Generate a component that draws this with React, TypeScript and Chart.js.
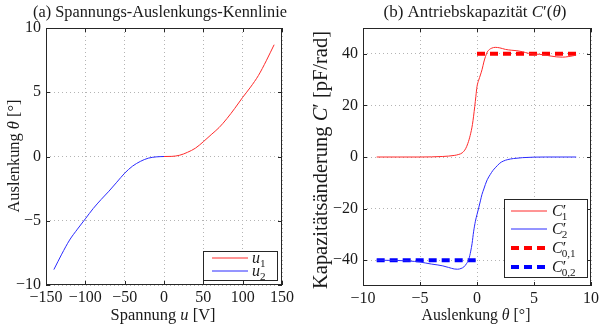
import React, { useEffect, useRef } from "react";
import { Chart, registerables } from "chart.js";

Chart.register(...registerables);

// (a) Spannungs-Auslenkungs-Kennlinie: Auslenkung θ [°] über Spannung u [V]
const voltageU1 = [0, 10, 20, 30, 40, 50, 60, 70, 80, 90, 100, 110, 120, 130, 140];
const thetaU1 = [0, 0.01, 0.1, 0.33, 0.65, 1.15, 1.7, 2.25, 2.95, 3.75, 4.6, 5.4, 6.3, 7.45, 8.7];
const voltageU2 = [-140, -130, -120, -110, -100, -90, -80, -70, -60, -50, -40, -30, -20, -10, 0];
const thetaU2 = [-8.8, -7.6, -6.5, -5.65, -4.85, -4.05, -3.35, -2.7, -2.0, -1.3, -0.75, -0.38, -0.13, -0.03, 0];

const voltageTicks = [-150, -100, -50, 0, 50, 100, 150];
const thetaTicksA = [-10, -5, 0, 5, 10];

// (b) Antriebskapazität C'(θ) in pF/rad
const thetaC1 = [-8.8, -7, -5, -4, -3, -2.5, -2, -1.6, -1.3, -1.0, -0.8, -0.6, -0.4, -0.2, -0.1, 0, 0.15, 0.3, 0.45, 0.6, 0.75, 0.9, 1.1, 1.3, 1.6, 2.0, 2.5, 3.0, 3.5, 4.0, 4.5, 5.0, 5.5, 6.0, 6.5, 7.0, 7.5, 8.0, 8.4, 8.7];
const capC1 = [0, 0, 0, 0.05, 0.2, 0.35, 0.6, 1.0, 1.6, 3.2, 5.3, 8.3, 12.6, 19.5, 23.5, 27.3, 29.8, 31.8, 34.0, 36.8, 39.0, 40.7, 41.7, 42.2, 42.5, 42.3, 41.7, 41.4, 41.2, 40.8, 40.2, 39.9, 39.8, 39.5, 39.1, 38.8, 38.7, 38.9, 39.2, 39.5];
const thetaC2 = [-8.8, -7, -6, -5, -4.5, -4, -3.5, -3, -2.5, -2, -1.7, -1.4, -1.15, -0.9, -0.72, -0.55, -0.43, -0.3, -0.14, 0, 0.15, 0.3, 0.43, 0.6, 0.73, 0.9, 1.16, 1.4, 1.6, 2.0, 2.3, 2.7, 3.2, 4.0, 5.0, 6.0, 8.7];
const capC2 = [-40.0, -40.1, -40.3, -40.7, -41.1, -41.5, -41.8, -42.2, -42.8, -43.4, -43.5, -43.2, -42.6, -41.2, -39.7, -36.5, -33.5, -29, -24.9, -22.3, -19.7, -17, -14.6, -12.4, -10.7, -8.8, -6.8, -5.2, -4.2, -2.4, -1.6, -1.0, -0.6, -0.25, -0.05, 0, 0];
const thetaC01 = [0, 8.7];
const capC01 = [40, 40];
const thetaC02 = [-8.8, 0];
const capC02 = [-40, -40];

const thetaTicksB = [-10, -5, 0, 5, 10];
const capTicks = [-40, -20, 0, 20, 40];

const FONT = '"Liberation Serif", "Times New Roman", serif';
const INK = "#1a1a1a";
const RED = "#ff2a2a";
const BLUE = "#2a2aff";

type Seg = { t?: string; it?: boolean; sub?: string; sup?: string };

const titleA: Seg[] = [{ t: "(a) Spannungs-Auslenkungs-Kennlinie" }];
const titleB: Seg[] = [{ t: "(b) Antriebskapazität " }, { t: "C", it: true }, { t: "′(" }, { t: "θ", it: true }, { t: ")" }];
const xLabelA: Seg[] = [{ t: "Spannung " }, { t: "u", it: true }, { t: " [V]" }];
const yLabelA: Seg[] = [{ t: "Auslenkung " }, { t: "θ", it: true }, { t: " [°]" }];
const xLabelB: Seg[] = [{ t: "Auslenkung " }, { t: "θ", it: true }, { t: " [°]" }];
const yLabelB: Seg[] = [{ t: "Kapazitätsänderung " }, { t: "C", it: true }, { t: "′ [pF/rad]" }];

const legendU1: Seg[] = [{ t: "u", it: true, sub: "1" }];
const legendU2: Seg[] = [{ t: "u", it: true, sub: "2" }];
const legendC1: Seg[] = [{ t: "C", it: true, sup: "′", sub: "1" }];
const legendC2: Seg[] = [{ t: "C", it: true, sup: "′", sub: "2" }];
const legendC01: Seg[] = [{ t: "C", it: true, sup: "′", sub: "0,1" }];
const legendC02: Seg[] = [{ t: "C", it: true, sup: "′", sub: "0,2" }];

const fontOf = (size: number, it?: boolean) => `${it ? "italic " : ""}${size}px ${FONT}`;

function richWidth(ctx: CanvasRenderingContext2D, segs: Seg[], size: number) {
  let w = 0;
  for (const s of segs) {
    if (s.t) {
      ctx.font = fontOf(size, s.it);
      w += ctx.measureText(s.t).width;
    }
    if (s.sub || s.sup) {
      let a = 0;
      let b = 0;
      if (s.sup) {
        ctx.font = fontOf(size);
        a = ctx.measureText(s.sup).width;
      }
      if (s.sub) {
        ctx.font = fontOf(size * 0.7);
        b = ctx.measureText(s.sub).width;
      }
      w += Math.max(a, b);
    }
  }
  return w;
}

// Draws mixed upright/italic text; when a target width is given the font size is fitted to it.
function drawRich(
  ctx: CanvasRenderingContext2D,
  segs: Seg[],
  x: number,
  y: number,
  baseSize: number,
  align: "left" | "center",
  targetWidth?: number
) {
  ctx.save();
  const size = targetWidth ? (baseSize * targetWidth) / richWidth(ctx, segs, baseSize) : baseSize;
  ctx.fillStyle = INK;
  ctx.textBaseline = "alphabetic";
  ctx.textAlign = "left";
  let cx = align === "center" ? x - richWidth(ctx, segs, size) / 2 : x;
  for (const s of segs) {
    if (s.t) {
      ctx.font = fontOf(size, s.it);
      ctx.fillText(s.t, cx, y);
      cx += ctx.measureText(s.t).width;
    }
    if (s.sub || s.sup) {
      let w = 0;
      if (s.sup) {
        ctx.font = fontOf(size);
        ctx.fillText(s.sup, cx, y);
        w = ctx.measureText(s.sup).width;
      }
      if (s.sub) {
        ctx.font = fontOf(size * 0.7);
        ctx.fillText(s.sub, cx - (s.sup ? 1 : 0), y + size * 0.25);
        w = Math.max(w, ctx.measureText(s.sub).width);
      }
      cx += w;
    }
  }
  ctx.restore();
}

type TextSpec = { segs: Seg[]; x: number; y: number; w: number };
type LegendRow = { y: number; label: Seg[]; dataset: number };
type FrameOpts = {
  title: TextSpec;
  xLabel: TextSpec;
  yLabel: TextSpec;
  legend: { box: [number, number, number, number]; lineX: [number, number]; textX: number; rows: LegendRow[] };
};

function framePlugin(o: FrameOpts) {
  return {
    id: "frame",
    afterDraw(chart: Chart) {
      const ctx = chart.ctx;
      const { left, right, top, bottom } = chart.chartArea;
      const xs = chart.scales.x;
      const ys = chart.scales.y;
      ctx.save();
      // axes box with inward tick marks on all four sides
      ctx.strokeStyle = "#262626";
      ctx.lineWidth = 1;
      ctx.strokeRect(left + 0.5, top + 0.5, right - left - 1, bottom - top - 1);
      ctx.beginPath();
      const tl = 4;
      for (const t of xs.ticks) {
        const px = Math.round(xs.getPixelForValue(t.value)) + 0.5;
        ctx.moveTo(px, bottom);
        ctx.lineTo(px, bottom - tl);
        ctx.moveTo(px, top);
        ctx.lineTo(px, top + tl);
      }
      for (const t of ys.ticks) {
        const py = Math.round(ys.getPixelForValue(t.value)) + 0.5;
        ctx.moveTo(left, py);
        ctx.lineTo(left + tl, py);
        ctx.moveTo(right, py);
        ctx.lineTo(right - tl, py);
      }
      ctx.stroke();

      // legend
      const [bx0, by0, bx1, by1] = o.legend.box;
      ctx.fillStyle = "#ffffff";
      ctx.fillRect(bx0, by0, bx1 - bx0, by1 - by0);
      ctx.strokeStyle = "#262626";
      ctx.strokeRect(bx0 + 0.5, by0 + 0.5, bx1 - bx0, by1 - by0);
      for (const r of o.legend.rows) {
        const ds: any = chart.data.datasets[r.dataset];
        ctx.save();
        ctx.strokeStyle = ds.borderColor;
        ctx.lineWidth = ds.borderWidth;
        ctx.setLineDash(ds.borderDash || []);
        ctx.beginPath();
        ctx.moveTo(o.legend.lineX[0], r.y);
        ctx.lineTo(o.legend.lineX[1], r.y);
        ctx.stroke();
        ctx.restore();
        drawRich(ctx, r.label, o.legend.textX, r.y + 5, 16, "left");
      }

      // title and axis titles
      drawRich(ctx, o.title.segs, o.title.x, o.title.y, 16, "center", o.title.w);
      drawRich(ctx, o.xLabel.segs, o.xLabel.x, o.xLabel.y, 16, "center", o.xLabel.w);
      ctx.save();
      ctx.translate(o.yLabel.x, o.yLabel.y);
      ctx.rotate(-Math.PI / 2);
      drawRich(ctx, o.yLabel.segs, 0, 0, 16, "center", o.yLabel.w);
      ctx.restore();
      ctx.restore();
    },
  };
}

const pts = (xs: number[], ys: number[]) => xs.map((x, i) => ({ x, y: ys[i] }));
const fmt = (v: number | string) => {
  const n = Number(v);
  return n < 0 ? "\u2212" + Math.abs(n) : String(n);
};

function axis(min: number, max: number, ticks: number[], isX: boolean, size: number) {
  return {
    type: "linear" as const,
    min,
    max,
    afterBuildTicks: (s: any) => {
      s.ticks = ticks.map((v) => ({ value: v }));
    },
    afterFit: (s: any) => {
      if (isX) s.height = size;
      else s.width = size;
    },
    grid: { color: "#b4b4b4", lineWidth: 1, drawTicks: false },
    border: { display: false, dash: [1, 3] },
    ticks: {
      color: INK,
      font: { family: FONT, size: 16 },
      padding: isX ? 3 : 5,
      maxRotation: 0,
      autoSkip: false,
      callback: (v: number | string) => fmt(v),
    },
  };
}

const lineDs = (data: { x: number; y: number }[], color: string, width: number, dash?: number[]) => ({
  data,
  showLine: true,
  borderColor: color,
  backgroundColor: color,
  borderWidth: width,
  borderDash: dash,
  pointRadius: 0,
  cubicInterpolationMode: "monotone" as const,
  fill: false,
});

export default function App() {
  const leftRef = useRef<HTMLCanvasElement>(null);
  const rightRef = useRef<HTMLCanvasElement>(null);

  useEffect(() => {
    const a = new Chart(leftRef.current!, {
      type: "scatter",
      data: {
        datasets: [
          lineDs(pts(voltageU1, thetaU1), RED, 1),
          lineDs(pts(voltageU2, thetaU2), BLUE, 1),
        ] as any,
      },
      options: {
        responsive: false,
        animation: false,
        events: [],
        layout: { padding: { left: 6, right: 320, top: 28, bottom: 10 } },
        plugins: { legend: { display: false }, tooltip: { enabled: false } },
        scales: {
          x: axis(-150, 150, voltageTicks, true, 40),
          y: axis(-10, 10, thetaTicksA, false, 40),
        },
      } as any,
      plugins: [
        framePlugin({
          title: { segs: titleA, x: 160, y: 17, w: 254 },
          xLabel: { segs: xLabelA, x: 163, y: 320, w: 105 },
          yLabel: { segs: yLabelA, x: 19, y: 156, w: 113 },
          legend: {
            box: [203, 251, 277, 280],
            lineX: [212, 248],
            textX: 252,
            rows: [
              { y: 258, label: legendU1, dataset: 0 },
              { y: 271, label: legendU2, dataset: 1 },
            ],
          },
        }),
      ],
    });

    const b = new Chart(rightRef.current!, {
      type: "scatter",
      data: {
        datasets: [
          lineDs(pts(thetaC1, capC1), RED, 1),
          lineDs(pts(thetaC2, capC2), BLUE, 1),
          { ...lineDs(pts(thetaC01, capC01), "#ff0000", 4, [8, 5]), cubicInterpolationMode: "default" },
          { ...lineDs(pts(thetaC02, capC02), "#0000ff", 4, [8, 5]), cubicInterpolationMode: "default" },
        ] as any,
      },
      options: {
        responsive: false,
        animation: false,
        events: [],
        layout: { padding: { left: 323, right: 9, top: 28, bottom: 9 } },
        plugins: { legend: { display: false }, tooltip: { enabled: false } },
        scales: {
          x: axis(-10, 10, thetaTicksB, true, 40),
          y: axis(-50, 50, capTicks, false, 40),
        },
      } as any,
      plugins: [
        framePlugin({
          title: { segs: titleB, x: 475, y: 17, w: 183 },
          xLabel: { segs: xLabelB, x: 476, y: 320, w: 109 },
          yLabel: { segs: yLabelB, x: 327, y: 160, w: 258 },
          legend: {
            box: [504, 199, 587, 277],
            lineX: [511, 547],
            textX: 552,
            rows: [
              { y: 211, label: legendC1, dataset: 0 },
              { y: 229, label: legendC2, dataset: 1 },
              { y: 248, label: legendC01, dataset: 2 },
              { y: 267, label: legendC02, dataset: 3 },
            ],
          },
        }),
      ],
    });

    return () => {
      a.destroy();
      b.destroy();
    };
  }, []);

  const canvasStyle: React.CSSProperties = { position: "absolute", left: 0, top: 0, display: "block" };
  return (
    <div style={{ position: "fixed", left: 0, top: 0, width: 602, height: 335, background: "#ffffff" }}>
      <canvas ref={leftRef} width={602} height={335} style={canvasStyle} />
      <canvas ref={rightRef} width={602} height={335} style={canvasStyle} />
    </div>
  );
}
